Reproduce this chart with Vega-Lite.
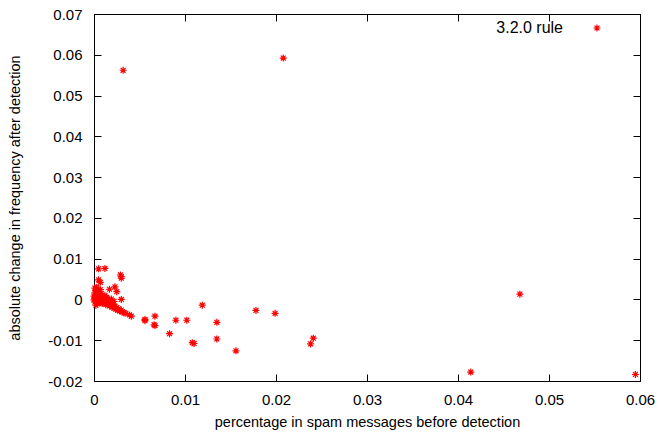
{
  "$schema": "https://vega.github.io/schema/vega-lite/v6.json",
  "width": 546,
  "height": 367,
  "autosize": "none",
  "padding": {"left": 94, "top": 14, "right": 20, "bottom": 57},
  "background": "white",
  "config": {
    "view": {"stroke": "black", "strokeWidth": 1},
    "font": "Liberation Sans",
    "axis": {"grid": false, "domain": false, "tickColor": "black", "tickSize": -7, "tickWidth": 1, "labelColor": "black", "titleColor": "black", "labelFont": "Liberation Sans", "titleFont": "Liberation Sans", "labelFontSize": 15, "titleFontSize": 14.5, "titleFontWeight": "normal"}
  },
  "datasets": {
    "pts": [
      {"x": 0.0032, "y": 0.0562, "s": "3.2.0 rule"},
      {"x": 0.0208, "y": 0.0592, "s": "3.2.0 rule"},
      {"x": 0.0468, "y": 0.0013, "s": "3.2.0 rule"},
      {"x": 0.0414, "y": -0.0178, "s": "3.2.0 rule"},
      {"x": 0.0595, "y": -0.0184, "s": "3.2.0 rule"},
      {"x": 0.0056, "y": -0.0049, "s": "3.2.0 rule"},
      {"x": 0.0056, "y": -0.0052, "s": "3.2.0 rule"},
      {"x": 0.0067, "y": -0.0041, "s": "3.2.0 rule"},
      {"x": 0.0067, "y": -0.0064, "s": "3.2.0 rule"},
      {"x": 0.0066, "y": -0.0062, "s": "3.2.0 rule"},
      {"x": 0.0083, "y": -0.0084, "s": "3.2.0 rule"},
      {"x": 0.0090, "y": -0.0051, "s": "3.2.0 rule"},
      {"x": 0.0102, "y": -0.0051, "s": "3.2.0 rule"},
      {"x": 0.0119, "y": -0.0014, "s": "3.2.0 rule"},
      {"x": 0.0110, "y": -0.0108, "s": "3.2.0 rule"},
      {"x": 0.0108, "y": -0.0106, "s": "3.2.0 rule"},
      {"x": 0.0135, "y": -0.0056, "s": "3.2.0 rule"},
      {"x": 0.0135, "y": -0.0097, "s": "3.2.0 rule"},
      {"x": 0.0156, "y": -0.0126, "s": "3.2.0 rule"},
      {"x": 0.0178, "y": -0.0027, "s": "3.2.0 rule"},
      {"x": 0.0199, "y": -0.0034, "s": "3.2.0 rule"},
      {"x": 0.0241, "y": -0.0095, "s": "3.2.0 rule"},
      {"x": 0.0238, "y": -0.0109, "s": "3.2.0 rule"},
      {"x": 0.0005, "y": 0.0075, "s": "3.2.0 rule"},
      {"x": 0.0012, "y": 0.0076, "s": "3.2.0 rule"},
      {"x": 0.0029, "y": 0.0060, "s": "3.2.0 rule"},
      {"x": 0.0030, "y": 0.0056, "s": "3.2.0 rule"},
      {"x": 0.0030, "y": 0.0052, "s": "3.2.0 rule"},
      {"x": 0.0005, "y": 0.0048, "s": "3.2.0 rule"},
      {"x": 0.0007, "y": 0.0042, "s": "3.2.0 rule"},
      {"x": 0.0017, "y": 0.0025, "s": "3.2.0 rule"},
      {"x": 0.0023, "y": 0.0031, "s": "3.2.0 rule"},
      {"x": 0.0025, "y": 0.0019, "s": "3.2.0 rule"},
      {"x": 0.0030, "y": 0.0000, "s": "3.2.0 rule"},
      {"x": 0.0039, "y": -0.0038, "s": "3.2.0 rule"},
      {"x": 0.0041, "y": -0.0041, "s": "3.2.0 rule"},
      {"x": 0.0001, "y": 0.0028, "s": "3.2.0 rule"},
      {"x": 0.0002, "y": 0.0022, "s": "3.2.0 rule"},
      {"x": 0.0001, "y": 0.0016, "s": "3.2.0 rule"},
      {"x": 0.0003, "y": 0.0012, "s": "3.2.0 rule"},
      {"x": 0.0000, "y": 0.0008, "s": "3.2.0 rule"},
      {"x": 0.0002, "y": 0.0005, "s": "3.2.0 rule"},
      {"x": 0.0001, "y": 0.0002, "s": "3.2.0 rule"},
      {"x": 0.0000, "y": -0.0001, "s": "3.2.0 rule"},
      {"x": 0.0003, "y": -0.0003, "s": "3.2.0 rule"},
      {"x": 0.0001, "y": -0.0006, "s": "3.2.0 rule"},
      {"x": 0.0004, "y": 0.0019, "s": "3.2.0 rule"},
      {"x": 0.0005, "y": 0.0009, "s": "3.2.0 rule"},
      {"x": 0.0006, "y": 0.0003, "s": "3.2.0 rule"},
      {"x": 0.0005, "y": -0.0002, "s": "3.2.0 rule"},
      {"x": 0.0006, "y": -0.0007, "s": "3.2.0 rule"},
      {"x": 0.0004, "y": -0.0011, "s": "3.2.0 rule"},
      {"x": 0.0008, "y": 0.0014, "s": "3.2.0 rule"},
      {"x": 0.0009, "y": 0.0006, "s": "3.2.0 rule"},
      {"x": 0.0008, "y": -0.0001, "s": "3.2.0 rule"},
      {"x": 0.0010, "y": -0.0005, "s": "3.2.0 rule"},
      {"x": 0.0009, "y": -0.0010, "s": "3.2.0 rule"},
      {"x": 0.0011, "y": 0.0002, "s": "3.2.0 rule"},
      {"x": 0.0012, "y": -0.0008, "s": "3.2.0 rule"},
      {"x": 0.0013, "y": -0.0013, "s": "3.2.0 rule"},
      {"x": 0.0014, "y": 0.0005, "s": "3.2.0 rule"},
      {"x": 0.0015, "y": -0.0004, "s": "3.2.0 rule"},
      {"x": 0.0016, "y": -0.0011, "s": "3.2.0 rule"},
      {"x": 0.0017, "y": -0.0016, "s": "3.2.0 rule"},
      {"x": 0.0018, "y": -0.0008, "s": "3.2.0 rule"},
      {"x": 0.0019, "y": -0.0014, "s": "3.2.0 rule"},
      {"x": 0.0020, "y": -0.0019, "s": "3.2.0 rule"},
      {"x": 0.0021, "y": -0.0012, "s": "3.2.0 rule"},
      {"x": 0.0022, "y": -0.0021, "s": "3.2.0 rule"},
      {"x": 0.0023, "y": -0.0017, "s": "3.2.0 rule"},
      {"x": 0.0024, "y": -0.0024, "s": "3.2.0 rule"},
      {"x": 0.0025, "y": -0.0020, "s": "3.2.0 rule"},
      {"x": 0.0026, "y": -0.0026, "s": "3.2.0 rule"},
      {"x": 0.0027, "y": -0.0023, "s": "3.2.0 rule"},
      {"x": 0.0028, "y": -0.0028, "s": "3.2.0 rule"},
      {"x": 0.0030, "y": -0.0026, "s": "3.2.0 rule"},
      {"x": 0.0031, "y": -0.0031, "s": "3.2.0 rule"},
      {"x": 0.0033, "y": -0.0033, "s": "3.2.0 rule"},
      {"x": 0.0035, "y": -0.0034, "s": "3.2.0 rule"},
      {"x": 0.0012, "y": 0.0010, "s": "3.2.0 rule"},
      {"x": 0.0007, "y": 0.0024, "s": "3.2.0 rule"},
      {"x": 0.0003, "y": 0.0030, "s": "3.2.0 rule"},
      {"x": 0.0002, "y": -0.0014, "s": "3.2.0 rule"},
      {"x": 0.0015, "y": 0.0001, "s": "3.2.0 rule"},
      {"x": 0.0022, "y": -0.0005, "s": "3.2.0 rule"},
      {"x": 0.0019, "y": 0.0001, "s": "3.2.0 rule"}
    ]
  },
  "data": {"name": "pts"},
  "layer": [
    {
      "mark": {"type": "point", "filled": false, "strokeWidth": 1.2, "opacity": 1, "size": 49, "shape": "M-1,0L1,0M0,-1L0,1M-0.7,-0.7L0.7,0.7M-0.7,0.7L0.7,-0.7"},
      "encoding": {
        "x": {"field": "x", "type": "quantitative", "scale": {"domain": [0, 0.06], "nice": false, "zero": false}, "axis": {"orient": "bottom", "title": "percentage in spam messages before detection", "values": [0, 0.01, 0.02, 0.03, 0.04, 0.05, 0.06], "labelExpr": "datum.value == 0 ? '0' : format(datum.value, '.2f')", "labelPadding": 18, "titlePadding": 8, "labelFlush": false, "labelOverlap": false}},
        "y": {"field": "y", "type": "quantitative", "scale": {"domain": [-0.02, 0.07], "nice": false, "zero": false}, "axis": {"orient": "left", "title": "absolute change in frequency after detection", "values": [-0.02, -0.01, 0, 0.01, 0.02, 0.03, 0.04, 0.05, 0.06, 0.07], "labelExpr": "abs(datum.value) < 1e-9 ? '0' : replace(format(datum.value, '.2f'), '\u2212', '-')", "labelPadding": 19, "titlePadding": 25, "labelFlush": false, "labelOverlap": false}},
        "color": {"field": "s", "type": "nominal", "scale": {"range": ["#ff0000"]}, "legend": {"title": null, "orient": "none", "legendX": 495, "legendY": 6, "symbolType": "M-1,0L1,0M0,-1L0,1M-0.7,-0.7L0.7,0.7M-0.7,0.7L0.7,-0.7", "symbolSize": 49, "symbolStrokeWidth": 1.2, "labelAlign": "right", "labelOffset": -42, "labelFontSize": 16, "labelFont": "Liberation Sans", "labelColor": "black", "padding": 0}}
      }
    },
    {
      "mark": {"type": "point", "opacity": 0},
      "encoding": {
        "x": {"field": "x", "type": "quantitative", "scale": {"domain": [0, 0.06], "nice": false, "zero": false}, "axis": {"orient": "top", "title": null, "labels": false, "values": [0, 0.01, 0.02, 0.03, 0.04, 0.05, 0.06]}},
        "y": {"field": "y", "type": "quantitative", "scale": {"domain": [-0.02, 0.07], "nice": false, "zero": false}, "axis": {"orient": "right", "title": null, "labels": false, "values": [-0.02, -0.01, 0, 0.01, 0.02, 0.03, 0.04, 0.05, 0.06, 0.07]}}
      }
    }
  ],
  "resolve": {"axis": {"x": "independent", "y": "independent"}}
}
